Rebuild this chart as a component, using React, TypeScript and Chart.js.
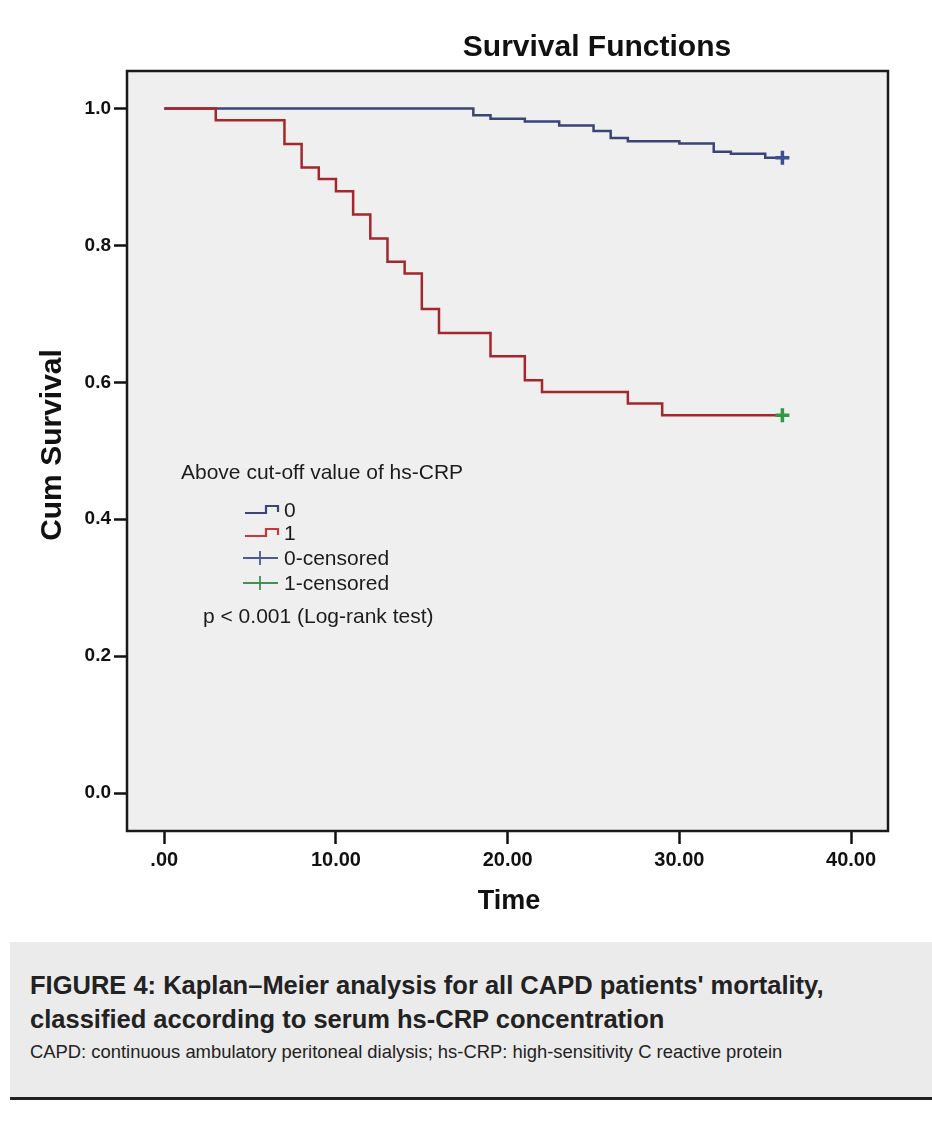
import React, { useEffect, useRef } from "react";
import { Chart, registerables } from "chart.js";

Chart.register(...registerables);

// ---------- data ----------
const xTickValues = [0, 10, 20, 30, 40];
const xTickLabels = [".00", "10.00", "20.00", "30.00", "40.00"];
const yTickValues = [0, 0.2, 0.4, 0.6, 0.8, 1.0];
const yTickLabels = ["0.0", "0.2", "0.4", "0.6", "0.8", "1.0"];

// group 0 (hs-CRP below cut-off)
const group0Time = [0, 18, 19, 21, 23, 25, 26, 27, 30, 32, 33, 35, 36];
const group0Surv = [1.0, 0.99, 0.985, 0.981, 0.975, 0.967, 0.957, 0.952, 0.949, 0.937, 0.934, 0.928, 0.928];

// group 1 (hs-CRP above cut-off)
const group1Time = [0, 3, 7, 8, 9, 10, 11, 12, 13, 14, 15, 16, 19, 21, 22, 27, 29, 36];
const group1Surv = [1.0, 0.983, 0.948, 0.914, 0.897, 0.879, 0.845, 0.81, 0.776, 0.759, 0.707, 0.672, 0.638, 0.603, 0.586, 0.569, 0.552, 0.552];

// censored observations
const censor0Time = [36];
const censor0Surv = [0.928];
const censor1Time = [36];
const censor1Surv = [0.552];

const chartTitle = "Survival Functions";
const xTitle = "Time";
const yTitle = "Cum Survival";
const legendTitle = "Above cut-off value of hs-CRP";
const legendLabels = ["0", "1", "0-censored", "1-censored"];
const testNote = "p < 0.001 (Log-rank test)";
const captionTitle = [
  "FIGURE 4: Kaplan\u2013Meier analysis for all CAPD patients' mortality,",
  "classified according to serum hs-CRP concentration",
];
const captionNote =
  "CAPD: continuous ambulatory peritoneal dialysis; hs-CRP: high-sensitivity C reactive protein";

// ---------- style ----------
const FONT = "'Liberation Sans', Arial, Helvetica, sans-serif";
const X_MIN = -2.17;
const X_MAX = 42.15;
const Y_MIN = -0.0555;
const Y_MAX = 1.0548;
const BLUE = "#3a4576";
const RED = "#a3272c";
const BLUE_CENSOR = "#3d4e94";
const GREEN_CENSOR = "#2f9a46";
const PLOT_BG = "#efefef";
const INK = "#111111";

const decorPlugin = {
  id: "decor",
  beforeDraw(chart: any) {
    const { ctx, chartArea: a } = chart;
    ctx.save();
    ctx.fillStyle = "#ffffff";
    ctx.fillRect(0, 0, chart.width, chart.height);
    ctx.fillStyle = PLOT_BG;
    ctx.fillRect(a.left, a.top, a.right - a.left, a.bottom - a.top);
    ctx.restore();
  },
  afterDraw(chart: any) {
    const { ctx, chartArea: a } = chart;
    ctx.save();
    // frame
    ctx.strokeStyle = "#1a1a1a";
    ctx.lineWidth = 2.5;
    ctx.strokeRect(a.left, a.top, a.right - a.left, a.bottom - a.top);

    // title
    ctx.fillStyle = INK;
    ctx.font = `bold 30px ${FONT}`;
    ctx.textAlign = "center";
    ctx.textBaseline = "alphabetic";
    ctx.fillText(chartTitle, 597, 56);

    // axis titles
    ctx.font = `bold 27px ${FONT}`;
    ctx.textBaseline = "middle";
    ctx.fillText(xTitle, 509, 902);
    ctx.save();
    ctx.translate(53, 445);
    ctx.rotate(-Math.PI / 2);
    ctx.font = `bold 30px ${FONT}`;
    ctx.fillText(yTitle, 0, 0);
    ctx.restore();

    // legend
    ctx.textAlign = "left";
    ctx.textBaseline = "middle";
    ctx.font = `21px ${FONT}`;
    ctx.fillStyle = "#1c1c1c";
    ctx.fillText(legendTitle, 181, 473);

    const rows = [510, 533, 558, 583];
    const x0 = 245;
    const x1 = 278;
    // step icons
    const stepColors = [BLUE, "#c0393d"];
    for (let i = 0; i < 2; i++) {
      const y = rows[i];
      ctx.strokeStyle = stepColors[i];
      ctx.lineWidth = 2.2;
      ctx.beginPath();
      ctx.moveTo(x0, y + 3);
      ctx.lineTo(x0 + 21, y + 3);
      ctx.lineTo(x0 + 21, y - 4);
      ctx.lineTo(x1, y - 4);
      ctx.lineTo(x1, y + 2);
      ctx.stroke();
    }
    // censor icons
    const censorColors = ["#4c5a96", "#3c9450"];
    for (let i = 2; i < 4; i++) {
      const y = rows[i];
      ctx.strokeStyle = censorColors[i - 2];
      ctx.lineWidth = 1.8;
      ctx.beginPath();
      ctx.moveTo(x0 - 2, y);
      ctx.lineTo(x1, y);
      ctx.moveTo(260, y - 7);
      ctx.lineTo(260, y + 7);
      ctx.stroke();
    }
    ctx.fillStyle = "#1c1c1c";
    legendLabels.forEach((lab, i) => ctx.fillText(lab, 284, rows[i] + 1));
    ctx.fillText(testNote, 203, 617);
    ctx.restore();
  },
};

function toPoints(xs: number[], ys: number[]) {
  return xs.map((x, i) => ({ x, y: ys[i] }));
}

export default function App() {
  const canvasRef = useRef<HTMLCanvasElement | null>(null);

  useEffect(() => {
    if (!canvasRef.current) return;
    const chart = new Chart(canvasRef.current, {
      type: "line",
      data: {
        datasets: [
          {
            label: "0-censored",
            type: "scatter",
            data: toPoints(censor0Time, censor0Surv),
            pointStyle: "cross",
            pointRadius: 7,
            borderWidth: 3.5,
            borderColor: BLUE_CENSOR,
            backgroundColor: BLUE_CENSOR,
            order: 0,
          },
          {
            label: "1-censored",
            type: "scatter",
            data: toPoints(censor1Time, censor1Surv),
            pointStyle: "cross",
            pointRadius: 7,
            borderWidth: 3.5,
            borderColor: GREEN_CENSOR,
            backgroundColor: GREEN_CENSOR,
            order: 0,
          },
          {
            label: "1",
            data: toPoints(group1Time, group1Surv),
            stepped: "before",
            borderColor: RED,
            borderWidth: 2.5,
            pointRadius: 0,
            fill: false,
            order: 1,
          },
          {
            label: "0",
            data: toPoints(group0Time, group0Surv),
            stepped: "before",
            borderColor: BLUE,
            borderWidth: 2.5,
            pointRadius: 0,
            fill: false,
            order: 2,
          },
        ],
      },
      options: {
        animation: false,
        responsive: false,
        devicePixelRatio: 1,
        layout: { padding: { left: 0, top: 71, right: 44, bottom: 0 } },
        plugins: {
          legend: { display: false },
          title: { display: false },
          tooltip: { enabled: false },
        },
        scales: {
          x: {
            type: "linear",
            min: X_MIN,
            max: X_MAX,
            afterBuildTicks: (s: any) => {
              s.ticks = xTickValues.map((v) => ({ value: v }));
            },
            afterFit: (s: any) => {
              s.height = 99;
            },
            ticks: {
              callback: (_v: any, i: number) => xTickLabels[i],
              font: { family: FONT, size: 20, weight: "bold" },
              color: INK,
              padding: 4,
              maxRotation: 0,
              autoSkip: false,
            },
            grid: {
              display: true,
              drawOnChartArea: false,
              drawTicks: true,
              tickLength: 13,
              tickWidth: 2.5,
              tickColor: INK,
            },
            border: { display: false },
          },
          y: {
            type: "linear",
            min: Y_MIN,
            max: Y_MAX,
            afterBuildTicks: (s: any) => {
              s.ticks = yTickValues.map((v) => ({ value: v }));
            },
            afterFit: (s: any) => {
              s.width = 127;
            },
            ticks: {
              callback: (_v: any, i: number) => yTickLabels[i],
              font: { family: FONT, size: 19, weight: "bold" },
              color: INK,
              padding: 3,
              autoSkip: false,
            },
            grid: {
              display: true,
              drawOnChartArea: false,
              drawTicks: true,
              tickLength: 13,
              tickWidth: 2.5,
              tickColor: INK,
            },
            border: { display: false },
          },
        },
      },
      plugins: [decorPlugin],
    } as any);
    return () => chart.destroy();
  }, []);

  return (
    <div
      style={{
        position: "absolute",
        left: 0,
        top: 0,
        width: 932,
        height: 1133,
        background: "#ffffff",
        fontFamily: FONT,
      }}
    >
      <canvas ref={canvasRef} width={932} height={930} style={{ display: "block" }} />
      <div
        style={{
          position: "absolute",
          left: 10,
          top: 942,
          width: 922,
          height: 158,
          background: "#ebebeb",
          borderBottom: "3px solid #222",
          boxSizing: "border-box",
          padding: "26px 0 0 20px",
          color: "#222",
        }}
      >
        <div style={{ fontWeight: "bold", fontSize: 25.5, lineHeight: "34px", whiteSpace: "nowrap" }}>
          {captionTitle.map((l, i) => (
            <div key={i}>{l}</div>
          ))}
        </div>
        <div style={{ fontSize: 18.4, lineHeight: "22px", marginTop: 5, whiteSpace: "nowrap" }}>{captionNote}</div>
      </div>
    </div>
  );
}
